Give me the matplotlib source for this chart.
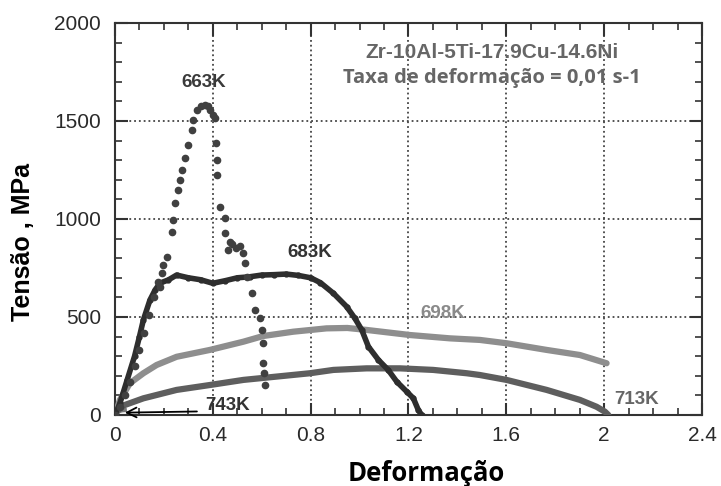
import numpy as np
import matplotlib.pyplot as plt
from matplotlib.ticker import MultipleLocator

plt.rcParams['font.family'] = ['Liberation Sans', 'DejaVu Sans']

# strain / stress (MPa)
strain_663 = [0.0, 0.02, 0.04, 0.06, 0.08, 0.10, 0.12, 0.14, 0.16, 0.175, 0.184, 0.191, 0.198,
              0.211, 0.232, 0.239, 0.245, 0.259, 0.266, 0.273, 0.286, 0.300, 0.313, 0.320,
              0.334, 0.350, 0.368, 0.380, 0.388, 0.400, 0.409, 0.413, 0.418, 0.416, 0.429,
              0.450, 0.450, 0.463, 0.470, 0.480, 0.495, 0.510, 0.525, 0.531, 0.538, 0.559,
              0.572, 0.593, 0.600, 0.604, 0.606, 0.609, 0.613]
stress_663 = [0, 40, 100, 170, 250, 330, 420, 510, 600, 680, 655, 723, 765,
              808, 935, 995, 1080, 1148, 1199, 1250, 1310, 1378, 1454, 1505,
              1556, 1575, 1582, 1575, 1556, 1530, 1514, 1386, 1301, 1224, 1063,
              1003, 927, 842, 884, 870, 850, 860, 825, 774, 706, 621,
              536, 493, 434, 366, 264, 213, 153]

strain_683 = [0.0, 0.02, 0.05, 0.08, 0.10, 0.116, 0.143, 0.164, 0.184, 0.218, 0.252, 0.30,
              0.35, 0.40, 0.45, 0.50, 0.55, 0.60, 0.65, 0.70, 0.75, 0.80, 0.84, 0.893,
              0.947, 0.981, 1.009, 1.036, 1.077, 1.117, 1.152, 1.193, 1.220, 1.240, 1.254]
stress_683 = [0, 60, 180, 300, 400, 485, 587, 638, 673, 689, 714, 700,
              690, 672, 685, 700, 705, 714, 716, 719, 712, 700, 675, 621,
              553, 493, 434, 349, 281, 230, 170, 119, 85, 26, 0]

strain_698 = [0.0, 0.02, 0.061, 0.116, 0.170, 0.252, 0.388, 0.525, 0.606, 0.729, 0.865,
              0.95, 1.029, 1.206, 1.370, 1.492, 1.601, 1.765, 1.901, 2.010]
stress_698 = [0, 77, 162, 213, 255, 297, 332, 374, 403, 425, 442,
              444, 434, 408, 391, 383, 366, 332, 306, 264]

strain_713 = [0.0, 0.02, 0.116, 0.252, 0.388, 0.525, 0.661, 0.797, 0.893, 1.029, 1.165,
              1.301, 1.438, 1.492, 1.601, 1.765, 1.901, 1.969, 2.003, 2.017]
stress_713 = [0, 42, 85, 128, 153, 179, 196, 213, 230, 238, 238,
              230, 213, 204, 179, 128, 77, 42, 17, 0]

strain_743 = [0.0, 0.01, 0.02, 0.03, 0.04]
stress_743 = [0, 14, 21, 24, 25]

xticks = [0, 0.4, 0.8, 1.2, 1.6, 2.0, 2.4]
xtick_labels = ['0', '0.4', '0.8', '1.2', '1.6', '2', '2.4']
yticks = [0, 500, 1000, 1500, 2000]

fig = plt.figure(figsize=(7.21, 4.86), dpi=100)
ax = fig.add_axes([0.1595, 0.1461, 0.8141, 0.8066])

ax.plot(strain_743, stress_743, color='#777777', lw=3, zorder=3)
ax.plot(strain_713, stress_713, color='#5e5e5e', lw=4.5, solid_capstyle='round', zorder=3)
ax.plot(strain_698, stress_698, color='#8e8e8e', lw=4.5, solid_capstyle='round', zorder=3)
ax.plot(strain_683, stress_683, color='#2e2e2e', lw=4, marker='o', ms=3.5, zorder=4)
ax.plot(strain_663, stress_663, ls='none', color='#404040', marker='o', ms=4.5, zorder=5)

ax.set_xlim(0, 2.4)
ax.set_ylim(0, 2000)
ax.set_xticks(xticks)
ax.set_xticklabels(xtick_labels)
ax.set_yticks(yticks)
ax.xaxis.set_minor_locator(MultipleLocator(0.1))
ax.yaxis.set_minor_locator(MultipleLocator(100))
ax.tick_params(which='both', direction='in', top=True, right=True, colors='#333333')
ax.tick_params(which='major', length=9, width=1.5, labelsize=15)
ax.tick_params(axis='y', which='major', pad=10)
ax.tick_params(axis='x', which='major', pad=8)
ax.tick_params(which='minor', length=5, width=1.2)
for lbl in ax.get_xticklabels() + ax.get_yticklabels():
    lbl.set_color('#2a2a2a')
for sp in ax.spines.values():
    sp.set_color('#333333')
    sp.set_linewidth(1.5)
ax.grid(True, which='major', ls=':', color='#444444', lw=1.3)

ax.set_xlabel('Deformação', fontsize=18.5, fontweight='bold', family='Open Sans')
ax.xaxis.set_label_coords(0.53, -0.115)
ax.set_ylabel('Tensão , MPa', fontsize=18, fontweight='bold')
ax.yaxis.set_label_coords(-0.136, 0.441)

lab = dict(fontsize=13.5, fontweight='bold', ha='center', va='center')
ax.text(0.362, 1694, '663K', color='#3a3a3a', **lab)
ax.text(0.797, 827, '683K', color='#333333', **lab)
ax.text(1.342, 519, '698K', color='#8a8a8a', **lab)
ax.text(2.134, 77, '713K', color='#666666', **lab)
ax.text(0.368, 46, '743K', color='#333333', fontsize=13.5, fontweight='bold',
        ha='left', va='center')
ax.annotate('', xy=(0.04, 12), xytext=(0.335, 18),
            arrowprops=dict(arrowstyle='->, head_length=0.7, head_width=0.35',
                            color='black', lw=1.3, shrinkA=0, shrinkB=0))

ax.text(1.541, 1847, 'Zr-10Al-5Ti-17.9Cu-14.6Ni', color='#666666', fontsize=15,
        fontweight='bold', ha='center', va='center')
ax.text(1.541, 1719, 'Taxa de deformação = 0,01 s-1', color='#666666', fontsize=14.5,
        fontweight='bold', family='Open Sans', ha='center', va='center')

fig.savefig('out.png', dpi=100)
